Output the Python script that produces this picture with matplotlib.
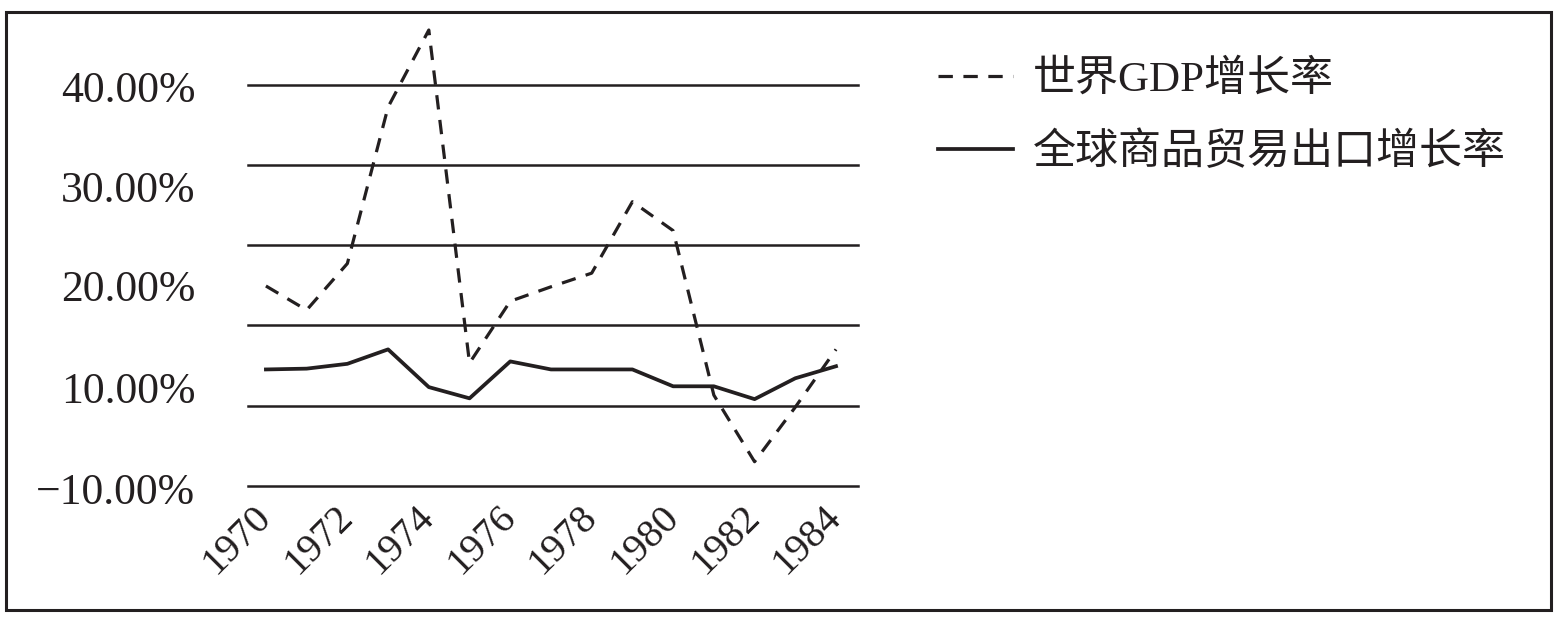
import matplotlib
matplotlib.use('Agg')
import matplotlib.pyplot as plt
from matplotlib.patches import Rectangle

plt.rcParams['font.family'] = ['Liberation Serif', 'Noto Sans CJK SC']

# data (axis units: gridlines at 40 ... -10)
years = list(range(1970, 1985))
gdp_growth = [14.9, 11.9, 17.7, 37.2, 46.8, 5.3, 13.0, 14.8, 16.5, 25.4, 21.8, 1.3, -7.0, -0.2, 7.0]
export_growth = [4.5, 4.6, 5.2, 7.0, 2.3, 0.9, 5.5, 4.5, 4.5, 4.5, 2.4, 2.4, 0.8, 3.4, 4.9]

gridlines = [40, 30, 20, 10, 0, -10]
ytick_pos = [39.75, 27.25, 14.9, 2.25, -10.4]
ytick_labels = ['40.00%', '30.00%', '20.00%', '10.00%', '\u221210.00%']
xtick_years = [1970, 1972, 1974, 1976, 1978, 1980, 1982, 1984]

fig = plt.figure(figsize=(15.64, 6.22), dpi=100)
ax = fig.add_axes([248 / 1564, 133 / 622, 610 / 1564, (489 - 20.4) / 622])

for g in gridlines:
    ax.axhline(g, color='#231f20', lw=1.8, clip_on=False, zorder=1)

ax.plot(years, gdp_growth, color='#231f20', lw=2.3, linestyle=(0, (4.5, 3.3)),
        label='世界GDP增长率', zorder=3)
ax.plot(years, export_growth, color='#231f20', lw=2.7,
        label='全球商品贸易出口增长率', zorder=3)

ax.set_xlim(1969.56, 1984.54)
ax.set_ylim(-10, 48)
for s in ax.spines.values():
    s.set_visible(False)

ax.set_yticks(ytick_pos)
ax.set_yticklabels(ytick_labels, fontsize=31.5, color='#231f20')
ax.set_xticks(xtick_years)
ax.set_xticklabels([str(y) for y in xtick_years], fontsize=29, color='#231f20',
                   rotation=45, ha='right', va='center', rotation_mode='anchor')
ax.tick_params(axis='y', length=0, pad=38)
ax.tick_params(axis='x', length=0, pad=16)

leg = fig.legend(loc='upper left', bbox_to_anchor=(938 / 1564, 1 - 60 / 622),
                 frameon=False, fontsize=31, handlelength=1.75, handletextpad=0.45,
                 labelspacing=0.75, borderaxespad=0, borderpad=0)
for t in leg.get_texts():
    t.set_color('#231f20')

fig.patches.append(Rectangle((6 / 1564, 12 / 622), (1551 - 6) / 1564, (610 - 12) / 622,
                             transform=fig.transFigure, fill=False,
                             edgecolor='#231f20', lw=2.2))

fig.savefig('out.png', dpi=100)
